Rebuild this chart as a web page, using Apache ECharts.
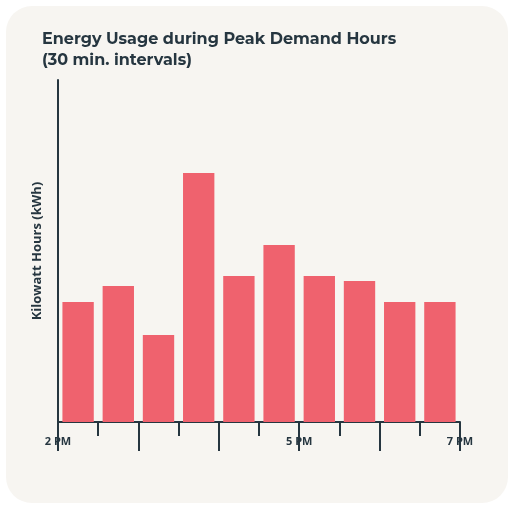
<!DOCTYPE html>
<html>
<head>
<meta charset="utf-8">
<script src="https://cdn.jsdelivr.net/npm/echarts@6/dist/echarts.min.js"></script>
<style>
  html,body{margin:0;padding:0;background:#fff;}
  #chart{width:514px;height:509px;}
</style>
</head>
<body>
<div id="chart"></div>
<script>
// half-hour slots from 2 PM to 7 PM
var slots = ['2:00','2:30','3:00','3:30','4:00','4:30','5:00','5:30','6:00','6:30'];
var usage = [120, 136, 87, 249, 146, 177, 146, 141, 120, 120];
var hourLabels = {0: '2 PM', 6: '5 PM', 10: '7 PM'};

var axisColor = '#263640';
var chart = echarts.init(document.getElementById('chart'));
var option = {
  backgroundColor: '#fff',
  graphic: [{
    type: 'rect', z: -10,
    shape: {x: 6, y: 6, width: 502, height: 497, r: 26},
    style: {fill: '#f7f5f1'}
  }],
  title: {
    text: 'Energy Usage during Peak Demand Hours\n(30 min. intervals)',
    left: 37, top: 24,
    textStyle: {fontFamily: 'Montserrat, "Open Sans", sans-serif', fontSize: 16, fontWeight: 'bold', color: '#263640', lineHeight: 21}
  },
  grid: {left: 58, right: 54, top: 80, bottom: 87},
  xAxis: [{
    type: 'category', data: slots,
    axisLine: {lineStyle: {color: axisColor, width: 2}},
    axisTick: {show: true, interval: 0, length: 14, lineStyle: {color: axisColor, width: 2}},
    axisLabel: {show: false}
  }, {
    type: 'value', position: 'bottom', min: 0, max: 10, interval: 2,
    axisLine: {show: false},
    splitLine: {show: false},
    axisTick: {show: true, length: 29, lineStyle: {color: axisColor, width: 2}},
    axisLabel: {
      margin: 14, fontSize: 11, fontWeight: 'bold', color: axisColor,
      fontFamily: '"Open Sans", sans-serif',
      formatter: function (v) { return hourLabels[v] || ''; }
    }
  }],
  yAxis: {
    type: 'value', min: 0, max: 342,
    name: 'Kilowatt Hours (kWh)', nameLocation: 'middle', nameGap: 14, nameRotate: 90,
    nameTextStyle: {fontSize: 13, fontWeight: 'bold', color: axisColor, fontFamily: '"Open Sans", sans-serif'},
    axisLine: {show: true, lineStyle: {color: axisColor, width: 2}},
    axisTick: {show: false}, axisLabel: {show: false}, splitLine: {show: false}
  },
  series: [{
    type: 'bar', data: usage, xAxisIndex: 0,
    barCategoryGap: '22%',
    itemStyle: {color: '#ef626e'}
  }]
};
chart.setOption(option);
</script>
</body>
</html>
